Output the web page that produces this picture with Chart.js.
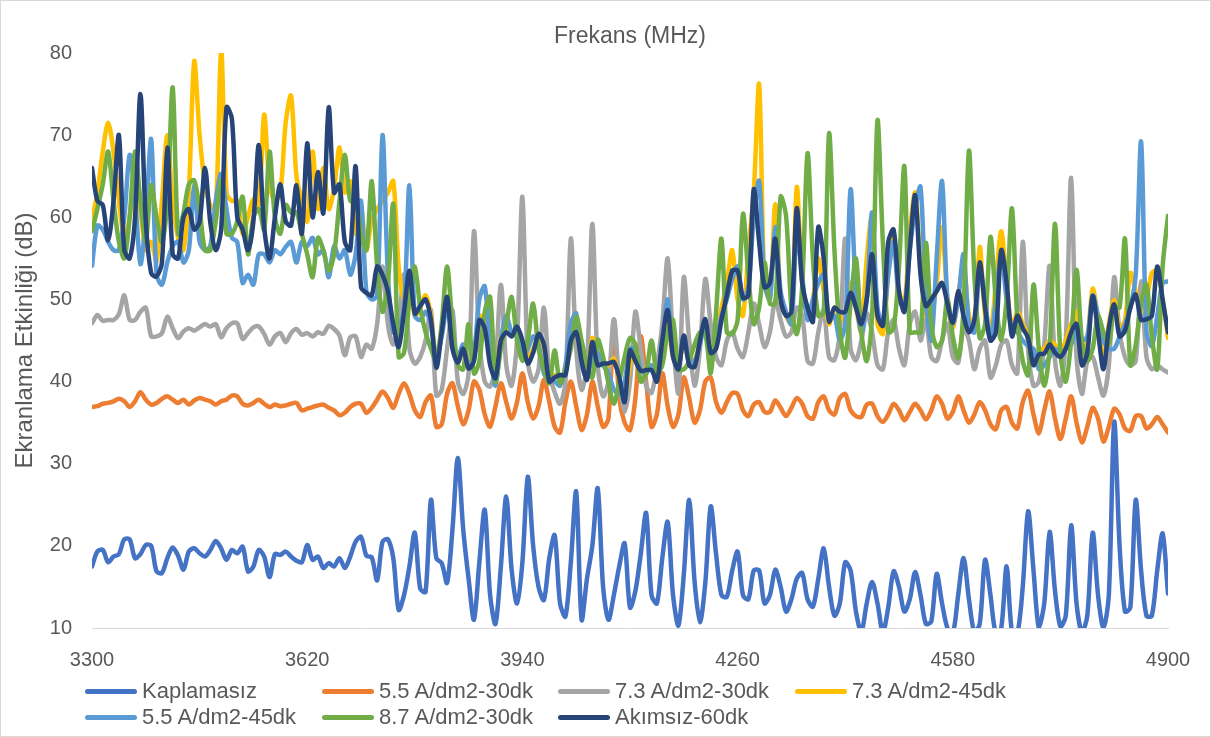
<!DOCTYPE html>
<html>
<head>
<meta charset="utf-8">
<title>Ekranlama Etkinliği</title>
<script src="https://cdn.jsdelivr.net/npm/chart.js@4.4.0/dist/chart.umd.min.js"></script>
<style>
  html, body { margin: 0; padding: 0; background: #fff; }
  #wrap { position: relative; width: 1211px; height: 737px; }
  #wrap canvas { position: absolute; left: 0; top: 0; }
  #frame { position: absolute; left: 0; top: 0; width: 1211px; height: 737px; box-sizing: border-box; border: 1px solid #d9d9d9; pointer-events: none; }
  #legend { position: absolute; left: 85px; top: 678px; display: grid; grid-template-columns: 237px 236px 237px 240px; grid-auto-rows: 26px;
            font-family: 'Liberation Sans', Arial, sans-serif; font-size: 22px; color: #595959; }
  .item { display: flex; align-items: center; white-space: nowrap; }
  .swatch { width: 52px; height: 5px; border-radius: 3px; margin-right: 5px; flex: none; }
</style>
</head>
<body>
<div id="wrap">
  <canvas id="chart" width="1211" height="737"></canvas>
  <div id="legend"></div>
  <div id="frame"></div>
</div>
<script>
// frequency grid, 8 MHz step from 3300 to 4900
const freq = [];
for (let f = 3300; f <= 4900; f += 8) freq.push(f);

const xTicks = [3300, 3620, 3940, 4260, 4580, 4900];
const yTicks = [10, 20, 30, 40, 50, 60, 70, 80];

const kaplamasiz = [
  17.5, 19.3, 19.5, 18.0, 18.7, 19.0, 20.8, 20.8, 18.5, 19.0,
  20.1, 20.0, 16.9, 16.7, 18.5, 19.8, 18.8, 17.1, 19.3, 19.7,
  19.1, 18.7, 19.5, 20.6, 19.7, 18.3, 19.5, 19.1, 19.9, 16.9,
  17.5, 19.5, 18.7, 16.2, 19.0, 18.9, 19.3, 18.7, 18.2, 18.0,
  20.1, 18.3, 18.7, 17.3, 17.9, 17.5, 18.5, 17.3, 18.7, 20.5,
  21.1, 18.8, 18.6, 15.8, 20.5, 20.8, 18.5, 12.2, 14.0, 17.5,
  21.6, 14.8, 14.4, 25.6, 18.5, 17.9, 15.5, 22.0, 30.7, 22.0,
  16.0, 11.0, 18.0, 24.4, 14.0, 10.5, 17.5, 26.0, 17.1, 13.0,
  18.0, 28.4, 20.0, 15.0, 13.4, 18.5, 21.3, 13.0, 11.4, 18.0,
  26.6, 11.0, 16.0, 20.0, 27.0, 15.0, 11.0, 14.0, 17.5, 20.3,
  12.5, 14.5, 19.0, 24.0, 14.0, 13.0, 18.5, 22.9, 14.0, 10.3,
  16.5, 25.6, 15.7, 10.7, 15.5, 24.8, 19.0, 14.0, 13.8, 17.0,
  19.3, 14.0, 13.5, 17.0, 17.0, 13.0, 14.0, 17.1, 15.0, 12.0,
  13.5, 16.0, 16.7, 13.5, 12.6, 16.0, 19.7, 15.0, 11.5, 13.0,
  18.0, 17.0, 12.0, 9.5, 13.0, 15.6, 13.0, 9.5, 12.5, 16.9,
  15.0, 12.0, 13.5, 16.8, 14.0, 10.5, 10.8, 16.6, 13.0, 10.0,
  9.3, 14.0, 18.5, 13.5, 9.5, 10.5, 18.3, 14.0, 9.3, 10.0,
  17.5, 9.5, 9.3, 15.0, 24.2, 17.0, 10.0, 13.0, 21.7, 14.5,
  10.2, 11.5, 22.5, 13.0, 9.5, 11.5, 21.6, 14.0, 10.0, 14.0,
  35.1, 20.0, 12.0, 12.5, 25.6, 17.0, 11.5, 11.5, 17.0, 21.5,
  14.2
];

const a55_30 = [
  36.9, 37.0, 37.3, 37.4, 37.6, 37.9, 37.6, 36.9, 37.6, 38.7,
  37.8, 37.2, 37.4, 37.9, 38.2, 37.8, 37.4, 37.8, 37.2, 37.7,
  38.0, 37.8, 37.6, 37.2, 37.6, 37.8, 38.3, 38.2, 37.3, 37.1,
  37.4, 37.8, 37.3, 36.9, 37.2, 37.0, 37.1, 37.3, 37.4, 36.5,
  36.7, 36.9, 37.1, 37.2, 36.8, 36.5, 35.9, 36.2, 36.9, 37.3,
  37.3, 36.2, 36.8, 37.8, 38.8, 38.0, 36.8, 38.5, 39.8, 38.5,
  36.5, 35.7, 37.5, 38.3, 34.5, 34.8, 38.5, 39.8, 37.0, 34.8,
  36.5, 40.0, 39.0, 36.0, 34.5, 37.0, 39.8, 37.5, 35.5, 37.5,
  41.0, 37.5, 35.5, 37.0, 40.2, 37.5, 34.5, 33.8, 37.5, 40.0,
  37.0, 34.1, 36.0, 40.0, 37.0, 34.5, 35.5, 47.5, 38.0, 35.0,
  34.1, 38.0, 45.5, 40.0, 34.5, 36.0, 41.0, 37.0, 34.5, 36.0,
  40.5, 38.0, 35.0, 36.5, 40.0, 40.5, 37.5, 36.2, 37.5, 38.6,
  38.5, 36.5, 35.8, 37.2, 37.5, 36.3, 36.3, 37.7, 36.8, 35.8,
  36.8, 38.0, 37.3, 35.8, 35.5, 37.5, 38.2, 36.5, 36.0, 38.0,
  38.5, 36.5, 35.8, 35.7, 37.2, 37.3, 35.8, 35.1, 36.0, 37.3,
  36.5, 35.3, 36.3, 37.3, 36.5, 35.4, 36.5, 38.2, 37.3, 35.5,
  36.3, 38.2, 36.5, 35.0, 36.0, 37.5, 36.5, 34.8, 34.2, 36.5,
  36.9, 35.0, 34.3, 37.5, 38.9, 36.0, 33.7, 36.5, 38.8, 35.5,
  33.0, 35.5, 38.2, 35.0, 32.6, 34.5, 36.8, 35.5, 32.7, 34.5,
  36.7, 36.0, 34.3, 34.0, 35.8, 35.8, 34.3, 34.8, 35.7, 34.8,
  33.8
];

const a73_30 = [
  47.1, 48.1, 47.4, 47.5, 47.5, 48.2, 50.5, 47.5, 47.5, 48.5,
  49.0, 45.5, 45.5, 45.9, 47.9, 46.5, 45.3, 46.1, 46.5, 46.2,
  46.6, 47.0, 46.7, 47.0, 45.4, 46.5, 47.1, 47.1, 45.2, 45.9,
  46.6, 46.7, 45.8, 44.5, 45.5, 45.9, 44.8, 45.9, 46.4, 45.7,
  45.9, 45.5, 46.0, 45.8, 46.8, 46.4, 45.6, 43.2, 45.4, 45.5,
  43.0, 44.5, 44.0, 47.0, 54.0, 47.0, 44.5, 47.0, 53.0, 44.0,
  42.2, 43.0, 45.0, 48.7, 38.3, 39.0, 44.0, 48.7, 40.0, 38.5,
  41.0, 58.3, 45.0, 40.0, 39.4, 42.0, 51.8, 42.0, 39.5, 45.0,
  62.5, 42.5, 40.0, 41.5, 49.0, 41.0, 38.7, 37.3, 40.0, 57.4,
  44.0, 39.0, 42.0, 59.2, 42.0, 38.2, 40.0, 47.6, 40.0, 36.3,
  40.0, 48.5, 44.0, 39.5, 38.6, 42.0, 47.0, 55.0, 45.0, 38.6,
  52.7, 45.0, 39.5, 44.0, 52.5, 47.0, 43.0, 42.0, 45.0, 46.0,
  44.0, 43.0, 46.0, 49.5, 47.0, 44.2, 46.0, 49.9, 47.5, 45.5,
  46.0, 49.0, 48.0, 42.5, 42.2, 46.0, 48.7, 43.0, 42.6, 46.0,
  57.4, 44.0, 42.6, 45.0, 48.3, 46.0, 42.0, 41.5, 46.0, 47.5,
  44.0, 42.0, 47.0, 48.5, 45.0, 47.5, 43.0, 42.5, 45.0, 47.0,
  43.0, 42.3, 46.5, 45.0, 41.5, 44.0, 45.0, 40.5, 42.0, 44.5,
  45.0, 42.0, 41.0, 57.0, 44.0, 39.5, 40.0, 44.5, 54.1, 42.5,
  39.5, 45.0, 64.8, 43.0, 38.5, 42.5, 43.0, 40.5, 38.3, 42.0,
  52.7, 46.0, 43.0, 42.0, 42.5, 52.2, 43.0, 41.5, 42.0, 41.5,
  41.1
];

const a73_45 = [
  59.7, 63.0, 68.0, 71.5, 68.0, 62.0, 57.5, 60.0, 66.0, 61.0,
  56.0, 57.0, 54.6, 62.0, 70.0, 62.0, 57.5, 56.0, 63.0, 79.0,
  70.0, 64.0, 61.5, 61.0, 80.5, 63.0, 62.0, 62.0, 58.0, 60.0,
  62.2, 61.5, 72.5, 64.0, 62.0, 63.0, 71.5, 74.8, 65.0, 62.0,
  59.5, 68.0, 61.0, 66.0, 61.0, 63.5, 68.5, 63.0, 64.4, 58.0,
  61.0, 56.0, 59.7, 61.0, 62.0, 63.0, 64.4, 54.0, 50.0, 52.0,
  48.0, 49.0, 50.5, 48.0, 42.5, 46.5, 50.0, 45.0, 42.5, 44.5,
  42.5, 43.0, 48.0, 47.0, 43.0, 40.5, 45.5, 46.5, 45.8, 46.5,
  44.5, 42.8, 44.0, 45.5, 44.0, 40.3, 40.8, 40.5, 41.2, 45.5,
  46.5, 42.8, 40.5, 45.3, 42.5, 42.5, 42.0, 42.8, 40.3, 38.0,
  42.0, 44.0, 41.5, 41.5, 42.0, 41.0, 44.0, 47.0, 43.0, 42.0,
  45.0, 42.5, 42.5, 45.0, 47.0, 44.0, 45.5, 49.0, 52.0, 56.0,
  50.0, 48.0, 56.0, 63.0, 76.2, 52.0, 50.0, 61.6, 50.0, 48.0,
  47.0, 63.7, 52.0, 48.0, 50.0, 55.0, 51.0, 47.0, 49.0, 48.0,
  47.5, 52.0, 49.0, 46.0, 55.0, 60.2, 47.0, 45.8, 53.0, 58.0,
  51.0, 49.5, 58.0, 63.0, 54.0, 48.0, 48.0, 52.0, 58.8, 50.0,
  46.5, 50.5, 54.1, 48.0, 46.5, 56.4, 48.0, 46.0, 52.0, 58.3,
  52.0, 46.5, 48.5, 47.0, 45.5, 43.0, 44.0, 44.0, 45.0, 44.5,
  43.5, 45.0, 47.0, 48.5, 43.0, 45.0, 51.3, 47.5, 42.5, 47.0,
  49.9, 46.5, 47.5, 53.2, 51.0, 48.5, 50.0, 53.2, 53.5, 50.0,
  45.3
];

const a55_45 = [
  54.1, 59.0, 58.5, 57.0, 56.0, 56.0, 60.0, 67.6, 62.5, 54.3,
  60.0, 69.5, 53.0, 51.8, 54.5, 56.5, 57.0, 54.5, 56.0, 63.9,
  57.0, 56.0, 56.5, 62.0, 65.3, 61.0, 57.5, 57.0, 52.0, 53.0,
  51.8, 55.5, 55.5, 54.5, 56.0, 55.5, 56.4, 57.0, 54.5, 57.0,
  56.5, 57.5, 55.5, 56.0, 52.7, 56.5, 55.0, 56.0, 53.0, 55.5,
  62.0, 51.0, 50.0, 50.5, 70.0, 53.0, 46.0, 46.5, 49.0, 63.9,
  48.0, 47.5, 48.5, 47.0, 43.0, 45.5, 49.0, 45.0, 43.0, 44.5,
  42.0, 43.5, 50.0, 51.6, 44.0, 39.5, 45.0, 48.0, 46.0, 45.5,
  43.5, 44.0, 45.5, 44.5, 41.0, 40.2, 40.0, 39.5, 42.0, 47.0,
  48.3, 42.0, 40.5, 43.0, 43.5, 42.0, 41.0, 39.0, 38.5, 40.0,
  44.0, 44.0, 41.5, 41.0, 42.0, 41.0, 45.0, 50.0, 43.5, 42.0,
  45.5, 42.5, 42.5, 44.5, 47.3, 43.5, 45.0, 48.0, 50.0, 52.5,
  54.0, 50.0, 51.5, 60.0, 64.4, 52.0, 50.0, 58.8, 51.0, 48.5,
  47.0, 58.0, 53.0, 47.5, 50.0, 52.0, 53.0, 47.5, 48.0, 45.0,
  47.0, 63.4, 51.0, 46.0, 50.0, 60.6, 49.0, 47.0, 53.0, 57.0,
  50.0, 49.0, 56.0, 61.0, 63.7, 50.0, 45.0, 55.0, 64.4, 50.0,
  47.0, 50.0, 55.5, 47.0, 46.0, 53.5, 50.0, 45.0, 50.0, 55.5,
  50.0, 46.5, 46.0, 45.0, 44.3, 44.0, 41.5, 42.0, 43.0, 44.0,
  43.0, 44.0, 44.5, 46.0, 45.0, 45.5, 50.5, 48.0, 45.0, 44.0,
  44.0, 45.5, 47.0, 49.0, 53.0, 69.2, 46.0, 44.3, 48.0, 52.0,
  52.2
];

const a87_30 = [
  58.3, 61.0, 64.0, 68.0, 62.0, 57.0, 55.0, 60.0, 68.0, 62.0,
  57.0, 63.9, 60.0, 57.0, 62.0, 75.8, 58.0, 60.5, 64.0, 64.5,
  61.0, 56.0, 56.0, 59.5, 64.5, 58.0, 58.0, 59.5, 62.5, 55.5,
  60.0, 61.0, 58.5, 68.0, 60.0, 58.0, 61.5, 60.6, 60.6, 58.0,
  55.5, 52.7, 57.5, 56.0, 53.5, 55.5, 62.0, 67.6, 62.0, 62.0,
  58.0, 56.0, 64.4, 54.0, 48.5, 52.0, 61.6, 43.0, 43.5, 50.0,
  54.0, 49.0, 46.0, 44.0, 42.5, 47.0, 54.0, 47.0, 42.0, 41.5,
  47.0, 41.0, 42.5, 48.5, 50.3, 40.0, 44.0, 47.0, 50.3, 45.0,
  42.5, 45.0, 49.5, 44.0, 41.5, 39.8, 43.8, 39.8, 41.5, 44.0,
  47.9, 45.0, 42.0, 40.5, 45.1, 43.0, 39.8, 37.3, 40.0, 43.0,
  45.3, 44.5, 40.0, 41.0, 45.0, 41.0, 42.0, 46.0, 47.5, 41.5,
  41.5, 42.5, 44.5, 46.0, 45.8, 41.0, 48.5, 57.4, 46.0, 45.8,
  47.5, 60.4, 53.0, 47.0, 49.0, 54.5, 49.5, 49.5, 62.5, 60.2,
  49.0, 45.8, 51.5, 67.8, 55.0, 48.0, 48.5, 70.2, 56.0, 46.2,
  42.9, 49.5, 55.0, 46.0, 42.5, 48.0, 71.8, 57.0, 46.0, 46.5,
  54.0, 66.2, 46.0, 46.0, 46.0, 56.9, 47.0, 44.2, 45.0, 50.0,
  45.5, 42.9, 49.0, 68.1, 53.0, 45.3, 47.0, 57.6, 50.0, 45.0,
  50.0, 61.1, 47.5, 42.5, 40.8, 51.8, 44.0, 39.5, 44.0, 59.2,
  43.5, 40.0, 45.0, 53.6, 45.0, 42.5, 44.0, 48.0, 46.0, 44.5,
  49.0, 49.0, 57.4, 42.0, 44.5, 49.5, 51.8, 45.5, 41.5, 54.0,
  60.2
];

const akimsiz60 = [
  66.0, 62.0, 61.5, 57.2, 62.0, 70.0, 56.0, 55.0, 60.0, 75.0,
  59.5, 53.2, 52.8, 54.5, 68.5, 55.5, 55.0, 60.0, 61.0, 58.5,
  59.5, 66.0, 59.3, 56.0, 58.5, 73.4, 72.0, 60.0, 58.5, 56.0,
  59.5, 68.8, 58.8, 55.0, 60.0, 64.0, 59.5, 59.0, 63.9, 58.0,
  69.0, 60.0, 65.5, 60.5, 73.4, 63.0, 64.0, 57.0, 56.0, 66.2,
  51.5, 50.8, 50.5, 54.0, 53.0, 51.0, 47.0, 44.2, 48.5, 53.5,
  48.3, 49.2, 50.0, 47.5, 41.7, 46.0, 50.3, 44.0, 42.3, 44.0,
  41.6, 42.5, 47.5, 46.5, 42.0, 40.4, 45.0, 46.0, 45.5, 46.7,
  45.0, 42.2, 43.5, 45.8, 44.5, 40.0, 40.5, 40.8, 40.8, 45.0,
  46.0, 42.5, 40.2, 44.8, 42.0, 42.2, 42.2, 42.4, 40.5, 37.5,
  43.8, 42.5, 41.3, 41.4, 41.4, 40.0, 45.0, 48.7, 43.0, 41.5,
  45.6, 42.0, 41.8, 45.0, 47.6, 43.5, 44.0, 47.5, 50.5, 53.5,
  53.5, 50.2, 50.5, 63.4, 57.0, 51.5, 52.0, 57.4, 50.0, 48.0,
  48.5, 61.1, 52.0, 49.0, 47.3, 58.8, 55.0, 47.3, 49.0, 48.5,
  48.5, 50.8, 49.0, 47.0, 50.0, 55.5, 48.0, 46.8, 57.0, 58.5,
  51.0, 48.5, 56.0, 62.7, 53.0, 49.2, 50.0, 51.0, 52.0, 49.5,
  47.2, 51.0, 48.0, 46.0, 47.5, 54.5, 49.0, 45.0, 46.0, 56.0,
  52.0, 45.5, 48.0, 46.5, 45.3, 42.0, 43.3, 43.4, 44.5, 43.5,
  43.0, 44.0, 46.0, 47.0, 42.0, 43.5, 50.4, 46.0, 41.5, 46.5,
  49.4, 45.5, 46.2, 49.0, 50.6, 47.5, 47.6, 48.0, 54.0, 50.0,
  46.0
];

const seriesNames = ['Kaplamasız', '5.5 A/dm2-30dk', '7.3 A/dm2-30dk', '7.3 A/dm2-45dk',
                     '5.5 A/dm2-45dk', '8.7 A/dm2-30dk', 'Akımsız-60dk'];
const seriesColors = ['#4472C4', '#ED7D31', '#A5A5A5', '#FFC000', '#5B9BD5', '#70AD47', '#264478'];
const seriesValues = [kaplamasiz, a55_30, a73_30, a73_45, a55_45, a87_30, akimsiz60];

const textColor = '#595959';
const fontFamily = "'Liberation Sans', Arial, sans-serif";
Chart.defaults.font.family = fontFamily;
Chart.defaults.color = textColor;

// later series are painted over earlier ones
const datasets = seriesValues.map((vals, i) => ({
    label: seriesNames[i],
    data: vals.map((v, k) => ({ x: freq[k], y: v })),
    borderColor: seriesColors[i],
    backgroundColor: seriesColors[i],
    borderWidth: 4.5,
    borderJoinStyle: 'round',
    borderCapStyle: 'round',
    pointRadius: 0,
    tension: 0.3,
    fill: false,
    order: seriesValues.length - 1 - i
}));

new Chart(document.getElementById('chart'), {
    type: 'line',
    data: { datasets: datasets },
    options: {
        responsive: false,
        animation: false,
        events: [],
        layout: { padding: { left: 0, right: 43, top: 0, bottom: 0 } },
        plugins: {
            legend: { display: false },
            tooltip: { enabled: false }
        },
        scales: {
            x: {
                type: 'linear',
                min: 3300,
                max: 4900,
                afterBuildTicks: s => { s.ticks = xTicks.map(v => ({ value: v })); },
                afterFit: s => { s.height = 109; },
                ticks: { font: { size: 20 }, padding: 20, maxRotation: 0, callback: v => String(v) },
                grid: { display: false, drawTicks: false },
                border: { display: true, color: '#d9d9d9', width: 1 }
            },
            // empty top axis that carries the heading, centred over the plot
            xTop: {
                type: 'linear',
                axis: 'x',
                position: 'top',
                min: 3300,
                max: 4900,
                afterFit: s => { s.height = 53; },
                ticks: { display: false },
                grid: { display: false, drawTicks: false },
                border: { display: false },
                title: {
                    display: true,
                    text: 'Frekans (MHz)',
                    color: textColor,
                    font: { size: 23 },
                    padding: { top: 23, bottom: 0 }
                }
            },
            y: {
                min: 10,
                max: 80,
                afterBuildTicks: s => { s.ticks = yTicks.map(v => ({ value: v })); },
                afterFit: s => { s.width = 92; },
                ticks: { font: { size: 20 }, padding: 20 },
                grid: { display: false, drawTicks: false },
                border: { display: false },
                title: {
                    display: true,
                    text: 'Ekranlama Etkinliği (dB)',
                    color: textColor,
                    font: { size: 24 },
                    padding: { top: 11, bottom: 0 }
                }
            }
        }
    }
});

// legend laid out as a 4-column grid under the axis
const legend = document.getElementById('legend');
seriesNames.forEach((name, i) => {
    const item = document.createElement('div');
    item.className = 'item';
    const sw = document.createElement('span');
    sw.className = 'swatch';
    sw.style.background = seriesColors[i];
    const label = document.createElement('span');
    label.textContent = name;
    item.appendChild(sw);
    item.appendChild(label);
    legend.appendChild(item);
});
</script>
</body>
</html>
